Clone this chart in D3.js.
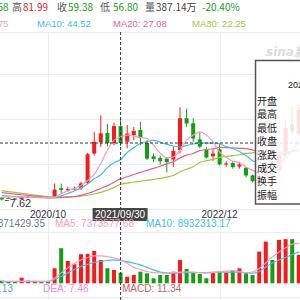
<!DOCTYPE html>
<html lang="zh">
<head>
	<meta charset="UTF-8">
	<title>kline monthly</title>
	<script src="https://cdn.jsdelivr.net/npm/d3@7/dist/d3.min.js"></script>
	<style>
		body {margin: 0; background: #fff;}
		svg {display: block;}
	</style>
</head>
<body>
<svg></svg>
<script>
	var months = ['2020/03', '2020/04', '2020/05', '2020/06', '2020/07', '2020/08', '2020/09', '2020/10', '2020/11', '2020/12',
		'2021/01', '2021/02', '2021/03', '2021/04', '2021/05', '2021/06', '2021/07', '2021/08', '2021/09', '2021/10', '2021/11', '2021/12',
		'2022/01', '2022/02', '2022/03', '2022/04', '2022/05', '2022/06', '2022/07', '2022/08', '2022/09', '2022/10', '2022/11', '2022/12',
		'2023/01', '2023/02', '2023/03', '2023/04', '2023/05', '2023/06', '2023/07', '2023/08', '2023/09', '2023/10', '2023/11', '2023/12'];

	var open = [10.2, 10.0, 9.4, 9.0, 10.6, 11.0, 11.3, 10.6, 10.6, 18.8,
		16.8, 17.6, 18.6, 23.5, 49.9, 60.0, 68.4, 59.3, 74.58, 60.5, 66.5, 71.1,
		59.5, 47.5, 46.0, 45.4, 44.5, 52.9, 81.7, 77.2, 62.6, 53.5, 47.5, 53.8,
		40.0, 41.4, 38.3, 37.2, 30.2, 25, 30, 40, 35, 48, 76, 68];
	var high = [10.6, 10.8, 9.9, 11.3, 11.9, 12.0, 11.6, 10.9, 22.9, 22.9,
		19.6, 20.2, 24.6, 50.5, 69.5, 84.2, 76.5, 77.7, 81.99, 75.6, 73.8, 78.4,
		62.0, 50.0, 48.0, 46.0, 56.0, 91.7, 90.3, 81.7, 69.3, 55.9, 53.8, 59.3,
		43.0, 43.2, 42.3, 37.7, 31.0, 31.5, 42, 43, 52, 80, 92, 94];
	var low = [7.62, 9.0, 8.4, 8.8, 10.1, 10.6, 10.1, 9.9, 10.4, 13.8,
		15.6, 16.6, 17.2, 22.6, 48.0, 55.9, 56.5, 57.5, 56.80, 54.7, 62.0, 57.5,
		44.0, 42.0, 40.0, 33.0, 38.0, 50.0, 74.0, 60.5, 54.5, 45.4, 43.4, 39.3,
		38.0, 36.3, 36.3, 28.6, 24.0, 23.5, 29, 33, 34, 46, 67, 66];
	var close = [8.6, 9.4, 9.0, 10.6, 11.0, 11.3, 10.6, 10.3, 17.5, 17.2,
		17.9, 18.6, 23.0, 49.3, 60.5, 68.1, 59.3, 74.6, 59.38, 67.9, 70.2, 63.8,
		45.4, 45.0, 43.0, 42.3, 52.3, 81.7, 77.0, 63.5, 56.0, 46.3, 49.9, 40.2,
		41.0, 37.7, 40.0, 30.2, 25.0, 30, 40, 35, 48, 73, 70, 89];

	// volume in millions of shares
	var volume = [0.95, 0.84, 0.84, 2.04, 0.95, 0.58, 0.84, 0.84, 5.47, 12.77,
		8.14, 6.93, 10.58, 10.69, 11.79, 8.5, 5.47, 4.85, 3.8714, 2.41, 3.03, 4.23,
		3.65, 1.82, 3.03, 3.03, 4.23, 8.5, 5.22, 3.87, 3.39, 1.82, 3.87, 4.23,
		3.87, 4.6, 5.47, 3.65, 3.03, 11.53, 15.18, 8.5, 15.8, 16.06, 16.06, 10.33];

	var ma5 = [10.6, 10.9, 10.9, 10.8, 10.6, 10.4, 10.2, 10.0, 10.5, 13.8,
		16.1, 18.4, 21.1, 25.6, 31.1, 41.1, 52.9, 62.0, 64.75, 66.5, 65.6, 64.5,
		63.4, 57.5, 50.2, 46.3, 46.8, 52.9, 62.0, 66.5, 69.5, 66.5, 60.6, 51.2,
		46.7, 43.0, 41.8, 37.8, 34.8, 32.6, 33.0, 32.0, 37.6, 47.2, 53.2, 63.0];
	var ma10 = [12.0, 11.6, 11.2, 10.9, 10.6, 10.4, 10.2, 10.0, 10.0, 11.8,
		14.0, 16.2, 19.0, 22.6, 27.2, 30.8, 37.2, 41.7, 44.52, 50.8, 55.3, 59.0,
		60.8, 61.7, 60.3, 58.1, 56.7, 55.8, 57.2, 58.5, 59.2, 59.2, 59.2, 58.5,
		56.2, 54.4, 51.7, 48.1, 43.5, 41.7, 39.9, 39.0, 40.8, 45.3, 52.6, 59.9];
	var ma20 = [14.7, 14.0, 13.4, 12.8, 12.2, 11.6, 11.0, 10.5, 10.2, 10.3,
		10.6, 11.1, 12.2, 14.0, 16.0, 18.5, 21.0, 24.0, 27.08, 29.0, 31.0, 33.0,
		34.7, 36.5, 38.5, 40.8, 42.5, 46.0, 48.5, 50.0, 52.5, 53.5, 54.2, 55.5,
		55.3, 55.0, 54.6, 54.3, 53.0, 51.4, 50.2, 49.2, 49.0, 50.0, 52.0, 54.0];
	var ma30 = [16.5, 15.7, 14.9, 14.1, 13.3, 12.5, 11.8, 11.2, 10.9, 10.8,
		10.9, 11.2, 11.6, 12.4, 13.5, 15.0, 17.0, 19.5, 22.25, 23.3, 24.3, 25.0,
		25.8, 26.6, 27.5, 28.8, 30.2, 33.5, 35.8, 38.0, 42.0, 43.5, 44.6, 46.5,
		47.3, 48.0, 48.8, 50.0, 50.5, 51.5, 51.5, 51.2, 51.0, 51.2, 51.8, 52.5];

	var volMa5 = [0.7, 0.7, 0.7, 0.8, 0.8, 0.8, 0.7, 0.7, 1.9, 3.8,
		5.6, 7.2, 8.5, 9.4, 10.0, 10.0, 9.7, 9.2, 8.5, 7.2, 5.8, 5.0,
		4.3, 3.9, 3.8, 3.65, 3.9, 4.1, 4.2, 4.1, 3.9, 3.8, 3.9, 4.2,
		4.4, 4.6, 4.3, 3.9, 4.1, 5.4, 7.4, 9.6, 11.4, 12.9, 14.2, 14.5];
	var volMa10 = [0.6, 0.6, 0.6, 0.6, 0.6, 0.6, 0.6, 0.65, 1.4, 2.5,
		3.8, 5.0, 6.1, 6.9, 7.6, 8.0, 8.3, 8.5, 8.3, 7.9, 7.3, 6.7,
		5.8, 4.9, 4.1, 3.8, 3.65, 3.8, 3.85, 3.9, 3.9, 3.9, 4.0, 4.05,
		4.1, 4.1, 4.0, 3.85, 3.65, 4.3, 5.95, 7.4, 8.5, 9.4, 10.5, 11.4];

	var priceGrid = [0, 40.5, 81, 121.5];
	var xTicks = ['2020/10', '2022/12'];
	var hoverMonth = '2021/09';
	var hoverDate = '2021/09/30';
	var hoverChange = '-20.40%';
	var minPrice = 7.62;

	var tipLabels = ['开盘', '最高', '最低', '收盘', '涨跌', '成交', '换手', '振幅'];

	var UP = '#f51b1b', DOWN = '#139e13';
	var C_MA5 = '#ff99bb', C_MA10 = '#3cc0e4', C_MA20 = '#ef5f8e', C_MA30 = '#9cc93a';

	var svg = d3.select('svg')
		.attr('width', 300)
		.attr('height', 300);

	var x = d3.scalePoint()
		.domain(months)
		.range([1.8, 298.8]);

	var y = d3.scaleLinear()
		.domain([0, 162])
		.range([209, 29]);

	var yv = d3.scaleLinear()
		.domain([0, 18.3])
		.range([283.3, 233]);

	var candles = months.map(function (m, i) {
		return {m: m, o: open[i], h: high[i], l: low[i], c: close[i], v: volume[i]};
	});

	function col(d) {
		return d.c >= d.o ? UP : DOWN;
	}

	// grid
	var grid = svg.append('g').attr('stroke', '#ececec').attr('stroke-width', 1);
	grid.append('line').attr('x1', 0).attr('x2', 300).attr('y1', 32.5).attr('y2', 32.5);
	grid.selectAll('.hg')
		.data(priceGrid)
		.enter()
		.append('line')
		.attr('x1', 0).attr('x2', 300)
		.attr('y1', function (d) { return Math.round(y(d)) + 0.5; })
		.attr('y2', function (d) { return Math.round(y(d)) + 0.5; });
	grid.append('line').attr('x1', 0).attr('x2', 300).attr('y1', 232.5).attr('y2', 232.5);
	grid.append('line').attr('x1', 0).attr('x2', 300).attr('y1', 297.5).attr('y2', 297.5);
	grid.selectAll('.vg')
		.data(xTicks)
		.enter()
		.append('line')
		.attr('x1', function (d) { return Math.round(x(d)) + 0.5; })
		.attr('x2', function (d) { return Math.round(x(d)) + 0.5; })
		.attr('y1', 32).attr('y2', 300);

	// candles
	var cg = svg.append('g');
	cg.selectAll('.wick')
		.data(candles)
		.enter()
		.append('line')
		.attr('x1', function (d) { return x(d.m); })
		.attr('x2', function (d) { return x(d.m); })
		.attr('y1', function (d) { return y(d.h); })
		.attr('y2', function (d) { return y(d.l); })
		.attr('stroke', col)
		.attr('stroke-width', 1);
	cg.selectAll('.body')
		.data(candles)
		.enter()
		.append('rect')
		.attr('x', function (d) { return x(d.m) - 2; })
		.attr('width', 4)
		.attr('y', function (d) { return y(Math.max(d.o, d.c)); })
		.attr('height', function (d) { return Math.max(1, Math.abs(y(d.o) - y(d.c))); })
		.attr('fill', col);

	// moving averages
	var maLine = function (arr) {
		return d3.line()
			.x(function (d, i) { return x(months[i]); })
			.y(function (d) { return y(d); })
			.curve(d3.curveMonotoneX)(arr);
	};
	[[ma30, C_MA30], [ma20, C_MA20], [ma10, C_MA10], [ma5, C_MA5]].forEach(function (s) {
		svg.append('path')
			.attr('d', maLine(s[0]))
			.attr('fill', 'none')
			.attr('stroke', s[1])
			.attr('stroke-width', 1.2);
	});

	// minimum marker
	var minIdx = low.indexOf(minPrice);
	svg.append('line')
		.attr('x1', x(months[minIdx]) + 3).attr('x2', x(months[minIdx]) + 7)
		.attr('y1', y(minPrice)).attr('y2', y(minPrice))
		.attr('stroke', '#555');
	svg.append('text')
		.attr('x', x(months[minIdx]) + 8)
		.attr('y', y(minPrice) + 6)
		.attr('font-family', 'Liberation Sans, Arial, sans-serif')
		.attr('font-size', 11)
		.attr('fill', '#333')
		.text(minPrice.toFixed(2));

	// volume
	var vg = svg.append('g');
	vg.selectAll('.vbar')
		.data(candles)
		.enter()
		.append('rect')
		.attr('x', function (d) { return x(d.m) - 2; })
		.attr('width', 4)
		.attr('y', function (d) { return yv(d.v); })
		.attr('height', function (d) { return yv(0) - yv(d.v); })
		.attr('fill', col);
	var volLine = function (arr) {
		return d3.line()
			.x(function (d, i) { return x(months[i]); })
			.y(function (d) { return yv(d); })
			.curve(d3.curveMonotoneX)(arr);
	};
	[[volMa10, C_MA10], [volMa5, C_MA5]].forEach(function (s) {
		vg.append('path')
			.attr('d', volLine(s[0]))
			.attr('fill', 'none')
			.attr('stroke', s[1])
			.attr('stroke-width', 1.2);
	});

	// crosshair
	var hi = months.indexOf(hoverMonth);
	svg.append('line')
		.attr('x1', x(hoverMonth)).attr('x2', x(hoverMonth))
		.attr('y1', 32).attr('y2', 300)
		.attr('stroke', '#333').attr('stroke-dasharray', '3,2');
	svg.append('line')
		.attr('x1', 0).attr('x2', 300)
		.attr('y1', y(close[hi])).attr('y2', y(close[hi]))
		.attr('stroke', '#333').attr('stroke-dasharray', '3,2');

	// x axis labels
	var axisFont = 'Liberation Sans, Arial, sans-serif';
	svg.selectAll('.xl')
		.data(xTicks)
		.enter()
		.append('text')
		.attr('x', function (d) { return x(d); })
		.attr('y', 217.5)
		.attr('text-anchor', 'middle')
		.attr('font-family', axisFont)
		.attr('font-size', 10)
		.attr('fill', '#333')
		.text(function (d) { return d; });
	svg.append('rect')
		.attr('x', x(hoverMonth) - 28).attr('y', 208)
		.attr('width', 55).attr('height', 13)
		.attr('fill', '#474747');
	svg.append('text')
		.attr('x', x(hoverMonth) - 0.5).attr('y', 217.5)
		.attr('text-anchor', 'middle')
		.attr('font-family', axisFont)
		.attr('font-size', 10)
		.attr('fill', '#fff')
		.text(hoverDate);

	// header line 1
	var cjk = 'Noto Sans CJK SC, sans-serif';
	var head1 = [
		{x: 8.5, a: 'end', t: '开 ' + open[hi].toFixed(2), c: DOWN},
		{x: 12, t: '高', c: '#555'},
		{x: 23, t: high[hi].toFixed(2), c: UP},
		{x: 57, t: '收', c: '#555'},
		{x: 68, t: close[hi].toFixed(2), c: DOWN},
		{x: 100, t: '低', c: '#555'},
		{x: 113, t: low[hi].toFixed(2), c: DOWN},
		{x: 145, t: '量', c: '#555'},
		{x: 156, t: (volume[hi] * 100).toFixed(2) + '万', c: '#444'},
		{x: 202, t: hoverChange, c: DOWN}
	];
	svg.selectAll('.h1')
		.data(head1)
		.enter()
		.append('text')
		.attr('x', function (d) { return d.x; })
		.attr('y', 11)
		.attr('text-anchor', function (d) { return d.a || 'start'; })
		.attr('font-family', cjk)
		.attr('font-size', 10)
		.attr('fill', function (d) { return d.c; })
		.text(function (d) { return d.t; });

	// header line 2
	var head2 = [
		{x: 8.5, a: 'end', t: 'MA5: ' + ma5[hi].toFixed(2), c: C_MA5},
		{x: 37, t: 'MA10: ' + ma10[hi].toFixed(2), c: C_MA10},
		{x: 113, t: 'MA20: ' + ma20[hi].toFixed(2), c: C_MA20},
		{x: 192, t: 'MA30: ' + ma30[hi].toFixed(2), c: C_MA30}
	];
	svg.selectAll('.h2')
		.data(head2)
		.enter()
		.append('text')
		.attr('x', function (d) { return d.x; })
		.attr('y', 27)
		.attr('text-anchor', function (d) { return d.a || 'start'; })
		.attr('font-family', axisFont)
		.attr('font-size', 9.5)
		.attr('fill', function (d) { return d.c; })
		.text(function (d) { return d.t; });

	// volume legend
	var vlab = [
		{x: 45, a: 'end', t: '3871429.35', c: '#6b7894'},
		{x: 55, t: 'MA5: 7373577.68', c: C_MA5},
		{x: 146, t: 'MA10: 8932313.17', c: C_MA10}
	];
	svg.selectAll('.vl')
		.data(vlab)
		.enter()
		.append('text')
		.attr('x', function (d) { return d.x; })
		.attr('y', 226.5)
		.attr('text-anchor', function (d) { return d.a || 'start'; })
		.attr('font-family', axisFont)
		.attr('font-size', 10)
		.attr('fill', function (d) { return d.c; })
		.text(function (d) { return d.t; });

	// macd legend
	var mlab = [
		{x: 13, a: 'end', t: 'DIF: 18.13', c: '#4aa8e0'},
		{x: 43, t: 'DEA: 7.46', c: '#ee88ee'},
		{x: 122, t: 'MACD: 11.34', c: '#c96262'}
	];
	svg.selectAll('.ml')
		.data(mlab)
		.enter()
		.append('text')
		.attr('x', function (d) { return d.x; })
		.attr('y', 292)
		.attr('text-anchor', function (d) { return d.a || 'start'; })
		.attr('font-family', axisFont)
		.attr('font-size', 10)
		.attr('fill', function (d) { return d.c; })
		.text(function (d) { return d.t; });

	// watermark
	svg.append('text')
		.attr('x', 266).attr('y', 56)
		.attr('font-family', 'DejaVu Sans, sans-serif')
		.attr('font-size', 12)
		.attr('font-weight', 'bold')
		.attr('font-style', 'italic')
		.attr('fill', '#dcdcdc')
		.text('sina新浪');

	// tooltip panel
	var tip = svg.append('g');
	tip.append('rect')
		.attr('x', 255.5).attr('y', 60.5)
		.attr('width', 50).attr('height', 143.5)
		.attr('fill', '#fff').attr('fill-opacity', 0.85)
		.attr('stroke', '#555').attr('stroke-width', 1.5);
	tip.append('text')
		.attr('x', 288).attr('y', 88)
		.attr('font-family', axisFont)
		.attr('font-size', 9)
		.attr('fill', '#222')
		.text(hoverDate);
	tip.selectAll('.tl')
		.data(tipLabels)
		.enter()
		.append('text')
		.attr('x', 257)
		.attr('y', function (d, i) { return 105 + i * 13.4; })
		.attr('font-family', cjk)
		.attr('font-size', 10)
		.attr('fill', '#222')
		.text(function (d) { return d; });
</script>
</body>
</html>
